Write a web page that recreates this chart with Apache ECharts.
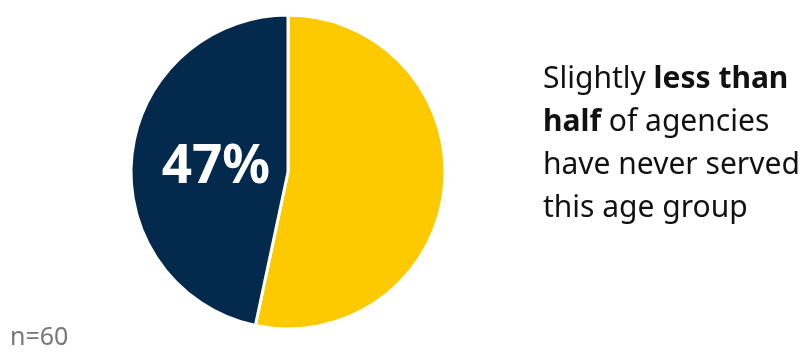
<!DOCTYPE html>
<html>
<head>
<meta charset="utf-8">
<script src="https://cdn.jsdelivr.net/npm/echarts@6/dist/echarts.min.js"></script>
<style>
  html, body { margin: 0; padding: 0; background: #fff; }
  #main { width: 807px; height: 352px; }
</style>
</head>
<body>
<div id="main"></div>
<script>
// agency counts, clockwise from 12 o'clock (n=60)
const sliceNames = ['Served', 'Never served'];
const sliceValues = [32, 28];
const sliceColors = ['#FDCA00', '#03294C'];
const sampleNote = 'n=60';

const chart = echarts.init(document.getElementById('main'));

chart.setOption({
  animation: false,
  series: [{
    type: 'pie',
    center: [288, 172],
    radius: [0, 157],
    startAngle: 90,
    clockwise: true,
    itemStyle: { borderColor: '#fff', borderWidth: 3 },
    labelLine: { show: false },
    data: sliceNames.map((name, i) => ({
      name,
      value: sliceValues[i],
      itemStyle: { color: sliceColors[i] },
      label: i === 1 ? {
        show: true,
        position: 'inside',
        formatter: p => Math.round(p.percent) + '%',
        color: '#fff',
        fontSize: 53,
        fontWeight: 'bold',
        fontFamily: 'Noto Sans',
        offset: [9, 4]
      } : { show: false }
    }))
  }],
  graphic: [
    {
      type: 'text',
      left: 543,
      top: 58,
      style: {
        text: 'Slightly {b|less than}\n{b|half} of agencies\nhave never served\nthis age group',
        fontFamily: 'Noto Sans',
        fontSize: 30,
        lineHeight: 43,
        fill: '#111',
        rich: {
          b: { fontWeight: 'bold', fontSize: 30, fontFamily: 'Noto Sans', lineHeight: 43, fill: '#111' }
        }
      }
    },
    {
      type: 'text',
      left: 10,
      top: 325,
      style: {
        text: sampleNote,
        fontFamily: 'Noto Sans',
        fontSize: 25,
        fill: '#777'
      }
    }
  ]
});
</script>
</body>
</html>
